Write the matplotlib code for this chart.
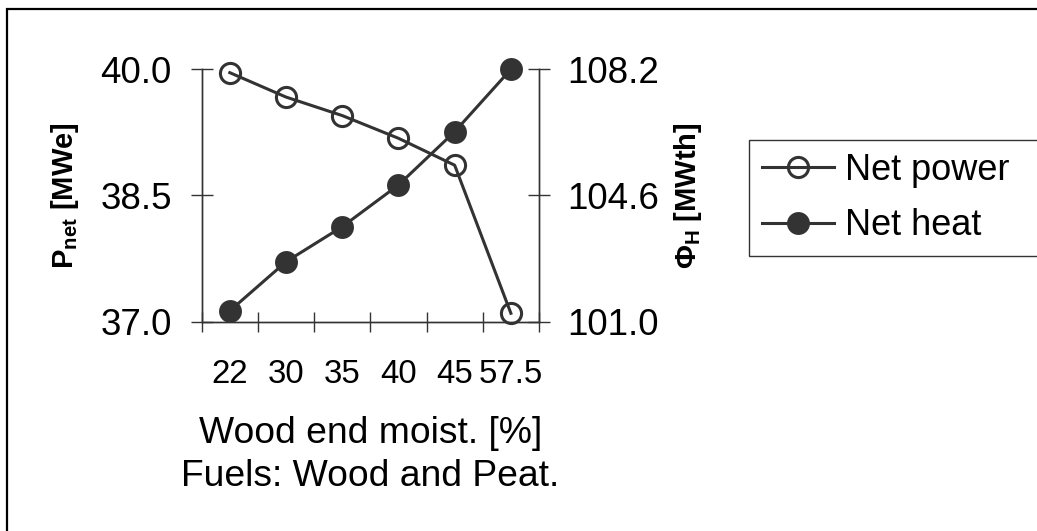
import matplotlib
matplotlib.use("Agg")
import matplotlib.pyplot as plt
from matplotlib.patches import Rectangle
from matplotlib.ticker import FormatStrFormatter

plt.rcParams['font.family'] = ['Liberation Sans', 'DejaVu Sans']
plt.rcParams['mathtext.fontset'] = 'custom'
plt.rcParams['mathtext.rm'] = 'Liberation Sans'
plt.rcParams['mathtext.bf'] = 'Liberation Sans:bold'

# data
moisture = ['22', '30', '35', '40', '45', '57.5']
net_power = [39.96, 39.67, 39.45, 39.18, 38.86, 37.10]   # MWe, left axis
net_heat = [101.31, 102.71, 103.71, 104.90, 106.42, 108.20]  # MWth, right axis
power_ticks = [37.0, 38.5, 40.0]
heat_ticks = [101.0, 104.6, 108.2]

W, H = 1037, 531
fig = plt.figure(figsize=(W / 100, H / 100), dpi=100)
ax = fig.add_axes([201.7 / W, 1 - 321.7 / H, (539 - 201.7) / W, (321.7 - 69.3) / H])
ax2 = ax.twinx()

lc = '#333333'
x = list(range(len(moisture)))

l1, = ax.plot(x, net_power, color=lc, lw=2.2, marker='o', ms=14.5,
              mfc='none', mec=lc, mew=2.2, clip_on=False, zorder=5,
              label='Net power')
l2, = ax2.plot(x, net_heat, color=lc, lw=2.2, marker='o', ms=15,
               mfc=lc, mec=lc, mew=1.5, clip_on=False, zorder=5,
               label='Net heat')

ax.set_xlim(-0.5, len(moisture) - 0.5)
ax.set_ylim(power_ticks[0], power_ticks[-1])
ax2.set_ylim(heat_ticks[0], heat_ticks[-1])

# category boundaries get tick marks, category centres get labels
ax.set_xticks([i - 0.5 for i in range(len(moisture) + 1)])
ax.set_xticklabels([])
ax.set_xticks(x, minor=True)
ax.set_xticklabels(moisture, minor=True)
ax.tick_params(axis='x', which='major', direction='inout', length=15, width=1, color=lc)
ax.tick_params(axis='x', which='minor', length=0, pad=27, labelsize=23.8)

ax.set_yticks(power_ticks)
ax.yaxis.set_major_formatter(FormatStrFormatter('%.1f'))
ax.tick_params(axis='y', direction='inout', length=16, width=1, color=lc, pad=13.5, labelsize=26.5)
ax2.set_yticks(heat_ticks)
ax2.yaxis.set_major_formatter(FormatStrFormatter('%.1f'))
ax2.tick_params(axis='y', direction='inout', length=16, width=1, color=lc, pad=12.5, labelsize=26.5)

for a in (ax, ax2):
    a.spines['top'].set_visible(False)
    for s in ('left', 'right', 'bottom'):
        a.spines[s].set_linewidth(1)
        a.spines[s].set_color(lc)
    a.patch.set_visible(False)

ax.set_ylabel('P$_\\mathregular{net}$ [MWe]', fontsize=21, fontweight='bold', va='center')
ax.yaxis.set_label_coords(-0.405, 0.5)
ax2.set_ylabel('Φ$_\\mathregular{H}$ [MWth]', fontsize=21, fontweight='bold', va='center',
               rotation=90)
ax2.yaxis.set_label_coords(1.442, 0.5)

ax.set_xlabel('Wood end moist. [%]\nFuels: Wood and Peat.', fontsize=26.8, linespacing=1.3)
ax.xaxis.set_label_coords(0.5, -0.375)

leg = fig.legend(handles=[l1, l2], loc='upper left',
                 bbox_to_anchor=(749 / W, 1 - 140 / H - 0.01, 320 / W, 0.01), mode='expand',
                 fontsize=26, frameon=True, fancybox=False, borderaxespad=0,
                 handlelength=2.0, handletextpad=0.3, labelspacing=0.57,
                 borderpad=0.35)
leg.get_frame().set_edgecolor('black')
leg.get_frame().set_linewidth(1)

fig.patches.append(Rectangle((6.5 / W, -0.05), 1.1, 1 - 8.5 / H + 0.05,
                             transform=fig.transFigure, fill=False,
                             edgecolor='black', linewidth=1.6, clip_on=False))

fig.savefig('out.png', dpi=100)
